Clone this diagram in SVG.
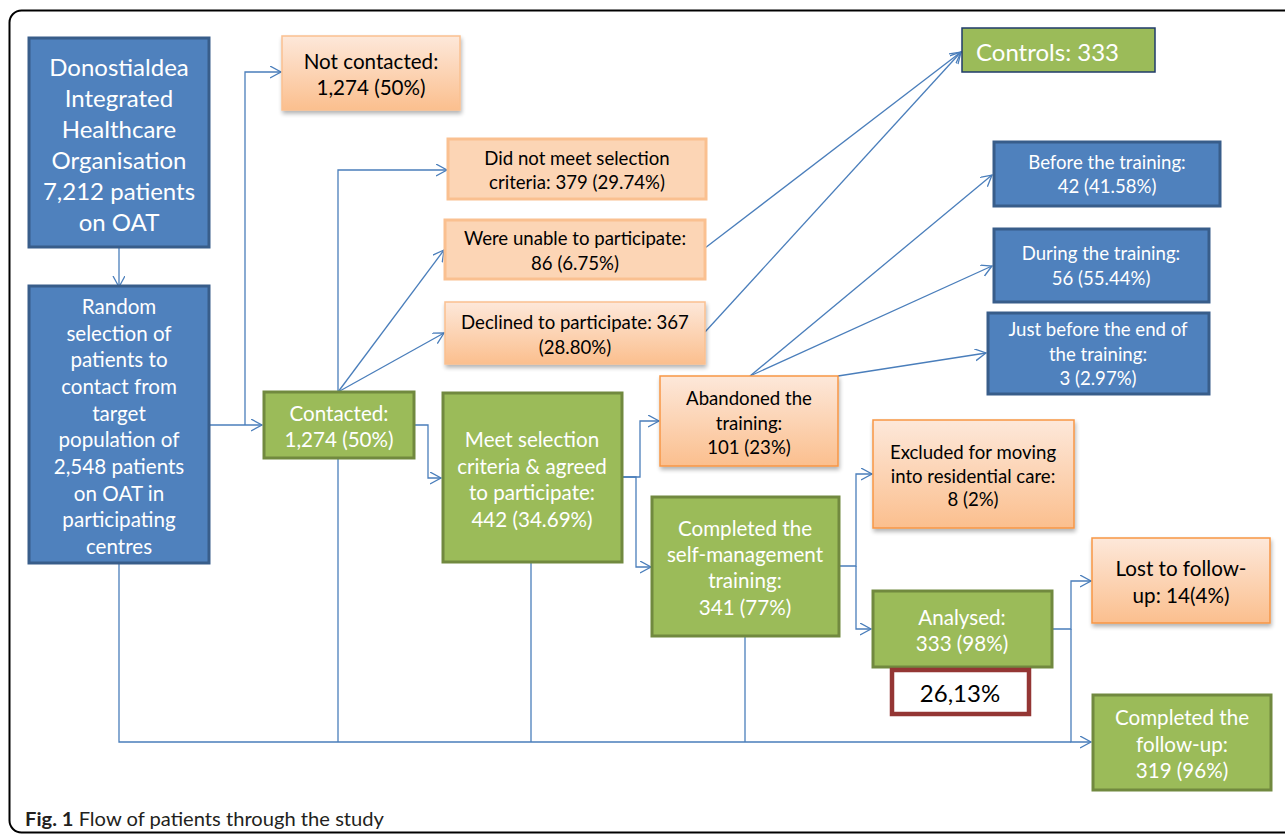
<svg xmlns="http://www.w3.org/2000/svg" width="1285" height="835" viewBox="0 0 1285 835">
<style>
text{font-family:Lato,"Open Sans","Liberation Sans",sans-serif;text-anchor:middle;dominant-baseline:central}
.w{fill:#ffffff}
.k{fill:#000000}
.blue{fill:#4f81bd;stroke:#385d8a;stroke-width:3}
.green{fill:#9bbb59;stroke:#71893f;stroke-width:3}
.peach{fill:#fcd5b5;stroke:#fac090;stroke-width:3}
.org{fill:url(#og);stroke:#f79646;stroke-width:1.5}
.orgl{fill:url(#og);stroke:#fac090;stroke-width:1.5}
.c{fill:none;stroke:#4a7ebb;stroke-width:1.3}
.a{marker-end:url(#ah)}
.s{font-size:18.6px}
.m{font-size:20.6px}
.l{font-size:24px}
</style>
<defs>
<linearGradient id="og" x1="0" y1="0" x2="0" y2="1">
<stop offset="0" stop-color="#fde8da"/>
<stop offset="1" stop-color="#fbbf8e"/>
</linearGradient>
<filter id="sh" x="-10%" y="-10%" width="125%" height="135%">
<feGaussianBlur in="SourceAlpha" stdDeviation="2"/>
<feOffset dx="1" dy="3" result="b"/>
<feComponentTransfer><feFuncA type="linear" slope="0.3"/></feComponentTransfer>
<feMerge><feMergeNode/><feMergeNode in="SourceGraphic"/></feMerge>
</filter>
<marker id="ah" markerWidth="14" markerHeight="14" refX="11" refY="6" orient="auto" markerUnits="userSpaceOnUse">
<path d="M0,0 L11,6 L0,12" fill="none" stroke="#4a7ebb" stroke-width="1.3"/>
</marker>
</defs>
<rect x="0" y="0" width="1285" height="835" fill="#ffffff"/>
<rect x="9.5" y="10.5" width="1300" height="822" rx="12" fill="none" stroke="#000000" stroke-width="2"/>

<g id="connectors">
<path class="c a" d="M119,247 V287"/>
<path class="c a" d="M209,425 H262"/>
<path class="c a" d="M245,425 V72 H281"/>
<path class="c a" d="M338,392 V170 H447"/>
<path class="c a" d="M338,392 L444,250"/>
<path class="c a" d="M338,392 L444,333"/>
<path class="c a" d="M414,425 H428 V478 H441"/>
<path class="c a" d="M705,248 L961,52"/>
<path class="c a" d="M705,332 L961,52"/>
<path class="c a" d="M622,477 H640 V421 H659"/>
<path class="c a" d="M622,477 H636 V567 H651"/>
<path class="c a" d="M750,376 L992,175"/>
<path class="c a" d="M750,376 L992,266"/>
<path class="c a" d="M838,376 L986,353"/>
<path class="c a" d="M839,566 H856 V474 H872"/>
<path class="c a" d="M856,566 V629 H871"/>
<path class="c a" d="M1052,629 H1071 V581 H1091"/>
<path class="c a" d="M1071,629 V742 H1091"/>
<path class="c" d="M119,563 V742 H1071"/>
<path class="c" d="M338,458 V742"/>
<path class="c" d="M531,562 V742"/>
<path class="c" d="M745,636 V742"/>
</g>

<g id="n-donostialdea">
<rect class="blue" x="29" y="38" width="180" height="209"/>
<text class="w l"><tspan x="119" y="66">Donostialdea</tspan><tspan x="119" y="97">Integrated</tspan><tspan x="119" y="128">Healthcare</tspan><tspan x="119" y="159">Organisation</tspan><tspan x="119" y="190">7,212 patients</tspan><tspan x="119" y="221">on OAT</tspan></text>
</g>

<g id="n-random">
<rect class="blue" x="29" y="286" width="180" height="277"/>
<text class="w m"><tspan x="119" y="306">Random</tspan><tspan x="119" y="333">selection of</tspan><tspan x="119" y="359">patients to</tspan><tspan x="119" y="386">contact from</tspan><tspan x="119" y="413">target</tspan><tspan x="119" y="439">population of</tspan><tspan x="119" y="466">2,548 patients</tspan><tspan x="119" y="493">on OAT in</tspan><tspan x="119" y="519">participating</tspan><tspan x="119" y="546">centres</tspan></text>
</g>

<g id="n-notcontacted">
<rect class="orgl" x="282" y="36" width="178" height="74" filter="url(#sh)"/>
<text class="k m"><tspan x="371" y="61">Not contacted:</tspan><tspan x="371" y="87">1,274 (50%)</tspan></text>
</g>

<g id="n-contacted">
<rect class="green" x="264" y="392" width="150" height="66"/>
<text class="w m"><tspan x="339" y="413">Contacted:</tspan><tspan x="339" y="439">1,274 (50%)</tspan></text>
</g>

<g id="n-didnotmeet">
<rect class="peach" x="448" y="139" width="258" height="60"/>
<text class="k s"><tspan x="577" y="158">Did not meet selection</tspan><tspan x="577" y="182">criteria: 379 (29.74%)</tspan></text>
</g>

<g id="n-unable">
<rect class="peach" x="445" y="220" width="260" height="59"/>
<text class="k s"><tspan x="575" y="238">Were unable to participate:</tspan><tspan x="575" y="263">86 (6.75%)</tspan></text>
</g>

<g id="n-declined">
<rect class="orgl" x="445" y="302" width="260" height="62" filter="url(#sh)"/>
<text class="k s"><tspan x="575" y="322">Declined to participate: 367</tspan><tspan x="575" y="347">(28.80%)</tspan></text>
</g>

<g id="n-controls">
<rect x="962" y="28" width="193" height="44" fill="#9bbb59" stroke="#1f3b6a" stroke-width="1.5"/>
<text class="w l" x="976" y="51" style="text-anchor:start">Controls: 333</text>
</g>

<g id="n-before">
<rect class="blue" x="994" y="142" width="226" height="64"/>
<text class="w s"><tspan x="1107" y="162">Before the training:</tspan><tspan x="1107" y="186">42 (41.58%)</tspan></text>
</g>

<g id="n-during">
<rect class="blue" x="994" y="229" width="215" height="73"/>
<text class="w s"><tspan x="1101" y="253">During the training:</tspan><tspan x="1101" y="278">56 (55.44%)</tspan></text>
</g>

<g id="n-justbefore">
<rect class="blue" x="988" y="313" width="221" height="81"/>
<text class="w s"><tspan x="1098" y="329">Just before the end of</tspan><tspan x="1098" y="354">the training:</tspan><tspan x="1098" y="378">3 (2.97%)</tspan></text>
</g>

<g id="n-abandoned">
<rect class="org" x="660" y="376" width="178" height="90" filter="url(#sh)"/>
<text class="k s"><tspan x="749" y="398">Abandoned the</tspan><tspan x="749" y="423">training:</tspan><tspan x="749" y="447">101 (23%)</tspan></text>
</g>

<g id="n-meet">
<rect class="green" x="443" y="393" width="179" height="169"/>
<text class="w m"><tspan x="532" y="439">Meet selection</tspan><tspan x="532" y="466">criteria &amp; agreed</tspan><tspan x="532" y="492">to participate:</tspan><tspan x="532" y="519">442 (34.69%)</tspan></text>
</g>

<g id="n-completed-training">
<rect class="green" x="652" y="497" width="187" height="139"/>
<text class="w m"><tspan x="745" y="528">Completed the</tspan><tspan x="745" y="554">self-management</tspan><tspan x="745" y="580">training:</tspan><tspan x="745" y="607">341 (77%)</tspan></text>
</g>

<g id="n-excluded">
<rect class="org" x="873" y="420" width="201" height="108" filter="url(#sh)"/>
<text class="k s"><tspan x="973" y="452">Excluded for moving</tspan><tspan x="973" y="476">into residential care:</tspan><tspan x="973" y="499">8 (2%)</tspan></text>
</g>

<g id="n-analysed">
<rect class="green" x="873" y="591" width="179" height="76"/>
<text class="w m"><tspan x="962" y="617">Analysed:</tspan><tspan x="962" y="643">333 (98%)</tspan></text>
</g>

<g id="n-percent">
<rect x="892" y="670" width="137" height="44" fill="#ffffff" stroke="#943634" stroke-width="4.5"/>
<text class="k l" x="960" y="692">26,13%</text>
</g>

<g id="n-lost">
<rect class="org" x="1092" y="538" width="178" height="85" filter="url(#sh)"/>
<text class="k m"><tspan x="1181" y="568">Lost to follow-</tspan><tspan x="1181" y="595">up: 14(4%)</tspan></text>
</g>

<g id="n-followup">
<rect class="green" x="1093" y="695" width="178" height="95"/>
<text class="w m"><tspan x="1182" y="717">Completed the</tspan><tspan x="1182" y="744">follow-up:</tspan><tspan x="1182" y="770">319 (96%)</tspan></text>
</g>

<text x="25" y="818" font-size="19" fill="#231f20" style="text-anchor:start" textLength="359" lengthAdjust="spacingAndGlyphs"><tspan font-weight="bold">Fig. 1</tspan> Flow of patients through the study</text>
</svg>
